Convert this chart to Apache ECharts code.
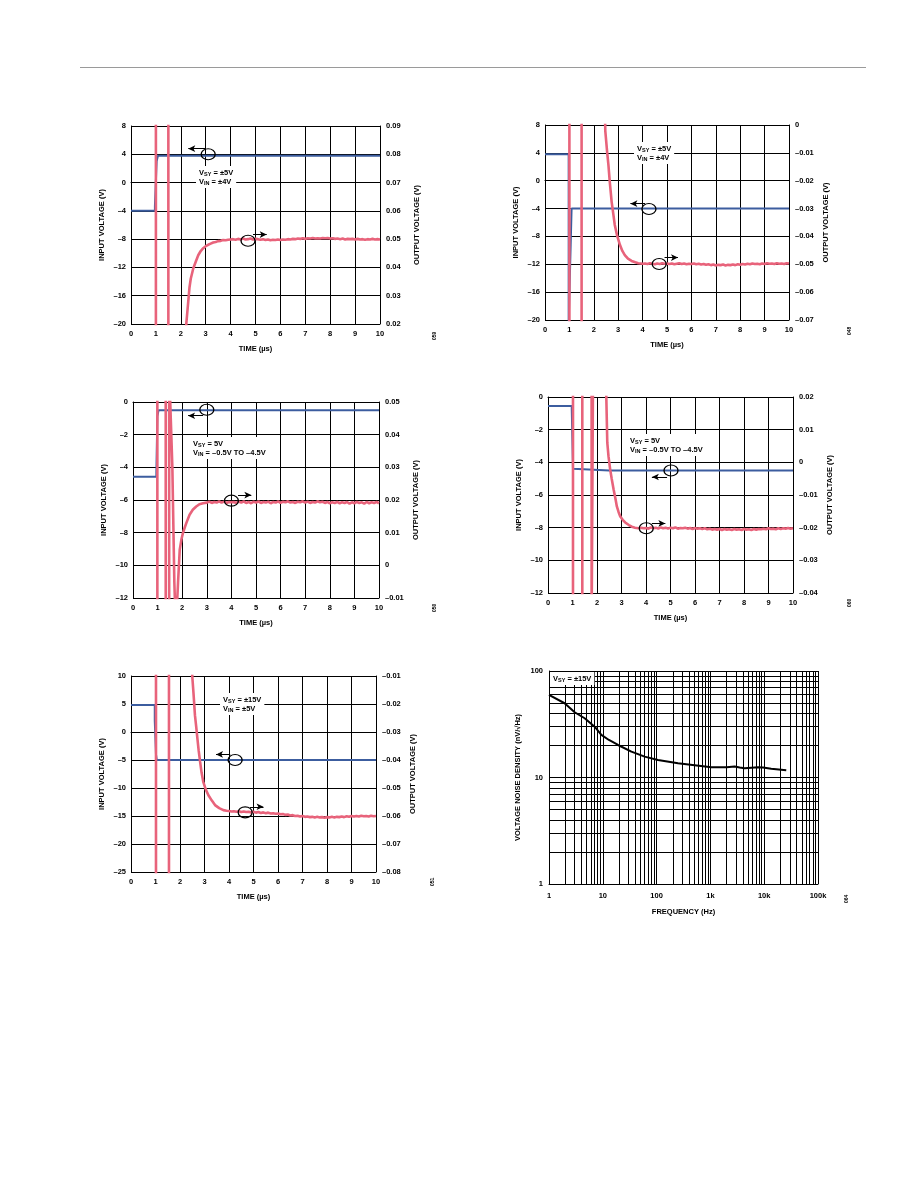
<!DOCTYPE html>
<html>
<head>
<meta charset="utf-8">
<script src="https://cdn.jsdelivr.net/npm/echarts@6/dist/echarts.min.js"></script>
<style>
  html, body { margin: 0; padding: 0; background: #fff; }
  #page { width: 918px; height: 1188px; }
</style>
</head>
<body>
<div id="page"></div>
<script>
// ---- data ----
// common sample times for the settled part of every output trace
const settleT = [4.0,4.1,4.2,4.3,4.4,4.5,4.6,4.7,4.8,4.9,5.0,5.1,5.2,5.3,5.4,5.5,5.6,5.7,5.8,5.9,
  6.0,6.1,6.2,6.3,6.4,6.5,6.6,6.7,6.8,6.9,7.0,7.1,7.2,7.3,7.4,7.5,7.6,7.7,7.8,7.9,
  8.0,8.1,8.2,8.3,8.4,8.5,8.6,8.7,8.8,8.9,9.0,9.1,9.2,9.3,9.4,9.5,9.6,9.7,9.8,9.9,10.0];

// panel 1: VSY = ±5V, VIN = ±4V (rising)
const c1Input = [[0,-4],[0.96,-4],[0.96,-3.4],[1.03,-3.4],[1.03,3.0],[1.08,3.0],[1.08,3.8],[10,3.8]];
const c1Output = [[1.0,0.01],[1.0,0.1],[1.5,0.1],[1.5,0.01],[2.2,0.01],[2.22,0.02],[2.3,0.028],[2.35,0.033],
  [2.4,0.036],[2.5,0.0396],[2.6,0.042],[2.7,0.0443],[2.8,0.0458],[2.9,0.0468],[3.0,0.0475],[3.1,0.048],
  [3.2,0.0484],[3.3,0.0488],[3.4,0.049],[3.5,0.0493],[3.6,0.0494],[3.7,0.0497],[3.8,0.0496],[3.9,0.0498]];
const c1Settle = [0.0499,
  0.0500,0.0498,0.0501,0.0499,0.0502,0.0499,0.0500,0.0502,0.0499,0.0501,
  0.0500,0.0498,0.0500,0.0497,0.0499,0.0496,0.0498,0.0497,0.0499,0.0497,
  0.0499,0.0498,0.0500,0.0499,0.0501,0.0500,0.0502,0.0501,0.0503,0.0501,
  0.0503,0.0502,0.0504,0.0502,0.0503,0.0502,0.0504,0.0503,0.0504,0.0502,
  0.0503,0.0501,0.0502,0.0500,0.0502,0.0499,0.0501,0.0500,0.0501,0.0499,
  0.0501,0.0499,0.0500,0.0498,0.0500,0.0499,0.0501,0.0499,0.0500,0.0499];

// panel 2: VSY = ±5V, VIN = ±4V (falling)
const c2Input = [[0,3.8],[0.97,3.8],[0.97,-20.5],[1.09,-4],[10,-4]];
const c2Output = [[1.0,0.01],[1.0,-0.08],[1.5,-0.08],[1.5,0.01],[2.45,0.01],[2.47,-0.002],[2.55,-0.01],
  [2.6,-0.0144],[2.65,-0.02],[2.73,-0.0275],[2.8,-0.032],[2.86,-0.0359],[2.95,-0.0395],[3.07,-0.043],
  [3.17,-0.0452],[3.27,-0.0467],[3.4,-0.048],[3.55,-0.0488],[3.7,-0.0493],[3.82,-0.0496],[3.9,-0.0497]];
const c2Settle = [-0.0498,
  -0.0497,-0.0499,-0.0496,-0.0498,-0.0500,-0.0497,-0.0499,-0.0496,-0.0498,-0.0497,
  -0.0499,-0.0497,-0.0500,-0.0498,-0.0496,-0.0499,-0.0497,-0.0500,-0.0498,-0.0499,
  -0.0497,-0.0500,-0.0498,-0.0501,-0.0499,-0.0502,-0.0500,-0.0503,-0.0501,-0.0504,
  -0.0502,-0.0503,-0.0501,-0.0504,-0.0502,-0.0503,-0.0501,-0.0503,-0.0500,-0.0502,
  -0.0499,-0.0501,-0.0498,-0.0500,-0.0497,-0.0499,-0.0498,-0.0500,-0.0497,-0.0499,
  -0.0496,-0.0498,-0.0497,-0.0499,-0.0496,-0.0498,-0.0497,-0.0499,-0.0496,-0.0497];

// panel 3: VSY = 5V, VIN = -0.5V to -4.5V (rising)
const c3Input = [[0,-4.58],[0.95,-4.58],[0.95,-4.3],[0.99,-4.3],[0.99,-0.87],[1.04,-0.87],[1.04,-0.5],[2.0,-0.5],[2.05,-0.44],[2.1,-0.5],
  [3.4,-0.5],[3.45,-0.44],[3.5,-0.5],[5.0,-0.5],[5.05,-0.44],[5.1,-0.5],[6.5,-0.5],[6.55,-0.45],[6.6,-0.5],
  [8.0,-0.5],[8.05,-0.44],[8.1,-0.5],[10,-0.5]];
const c3Output = [[0.99,-0.02],[0.99,0.06],[1.33,0.06],[1.33,-0.02],[1.47,-0.02],[1.47,0.06],[1.55,0.06],
  [1.6,0.03],[1.68,-0.005],[1.74,-0.02],[1.8,-0.02],[1.83,-0.0054],[1.9,0.0048],[1.97,0.008],[2.03,0.0099],
  [2.1,0.0115],[2.17,0.013],[2.3,0.0155],[2.43,0.017],[2.57,0.018],[2.7,0.0187],[2.85,0.019],[3.0,0.0192],
  [3.1,0.0195],[3.2,0.0191],[3.3,0.0194],[3.4,0.0192],[3.5,0.0196],[3.6,0.0192],[3.7,0.0195],[3.8,0.0191],[3.9,0.0194]];
const c3Settle = [0.0193,
  0.0194,0.0191,0.0195,0.0192,0.0196,0.0191,0.0194,0.0190,0.0195,0.0192,
  0.0196,0.0191,0.0194,0.0192,0.0195,0.0190,0.0194,0.0192,0.0196,0.0191,
  0.0195,0.0193,0.0196,0.0192,0.0194,0.0191,0.0195,0.0193,0.0196,0.0192,
  0.0195,0.0191,0.0194,0.0192,0.0196,0.0193,0.0195,0.0191,0.0194,0.0190,
  0.0193,0.0191,0.0194,0.0190,0.0193,0.0191,0.0194,0.0189,0.0193,0.0190,
  0.0194,0.0191,0.0193,0.0189,0.0194,0.0190,0.0193,0.0191,0.0194,0.0190];

// panel 4: VSY = 5V, VIN = -0.5V to -4.5V (falling)
const c4Input = [[0,-0.55],[0.97,-0.55],[0.97,-0.75],[1.02,-0.75],[1.02,-4.4],[1.06,-4.4],[1.06,-4.52],[2.5,-4.5],[2.55,-4.44],[2.6,-4.5],
  [5.5,-4.5],[5.55,-4.44],[5.6,-4.5],[7.3,-4.5],[7.35,-4.44],[7.4,-4.5],[9.0,-4.5],[9.05,-4.44],[9.1,-4.5],[10,-4.5]];
const c4Output = [[1.02,0.03],[1.02,-0.05],[1.4,-0.05],[1.4,0.03],[1.78,0.03],[1.78,-0.05],[1.84,-0.05],[1.84,0.03],
  [2.38,0.03],[2.38,0.02],[2.42,0.006],[2.47,0.0018],[2.54,-0.0023],[2.6,-0.005],[2.68,-0.0084],[2.75,-0.011],
  [2.81,-0.0135],[2.88,-0.0152],[2.95,-0.0166],[3.05,-0.0176],[3.15,-0.0184],[3.3,-0.0192],[3.42,-0.0197],
  [3.55,-0.02],[3.69,-0.0202],[3.8,-0.0200],[3.9,-0.0202]];
const c4Settle = [-0.0201,
  -0.0203,-0.0199,-0.0202,-0.0200,-0.0203,-0.0199,-0.0202,-0.0200,-0.0203,-0.0200,
  -0.0202,-0.0199,-0.0203,-0.0201,-0.0202,-0.0200,-0.0203,-0.0201,-0.0204,-0.0201,
  -0.0203,-0.0202,-0.0204,-0.0202,-0.0205,-0.0203,-0.0206,-0.0204,-0.0206,-0.0204,
  -0.0207,-0.0204,-0.0206,-0.0205,-0.0207,-0.0204,-0.0206,-0.0205,-0.0207,-0.0204,
  -0.0206,-0.0205,-0.0207,-0.0204,-0.0206,-0.0204,-0.0205,-0.0203,-0.0205,-0.0202,
  -0.0204,-0.0203,-0.0205,-0.0202,-0.0204,-0.0202,-0.0203,-0.0201,-0.0203,-0.0202];

// panel 5: VSY = ±15V, VIN = ±5V (falling)
const c5Input = [[0,4.8],[0.97,4.8],[0.97,2.0],[1.02,2.0],[1.02,-4.0],[1.05,-4.0],[1.05,-5],[2.0,-5],[2.05,-4.7],[2.1,-5],
  [3.6,-5],[3.65,-4.7],[3.7,-5],[6.0,-5],[6.05,-4.7],[6.1,-5],[7.5,-5],[7.55,-4.7],[7.6,-5],[10,-5]];
const c5Output = [[1.02,0.0],[1.02,-0.09],[1.55,-0.09],[1.55,0.0],[2.5,0.0],[2.5,-0.01],[2.55,-0.016],
  [2.61,-0.024],[2.66,-0.028],[2.71,-0.0323],[2.76,-0.0365],[2.82,-0.0406],[2.88,-0.0445],[2.95,-0.0478],
  [3.05,-0.0505],[3.16,-0.0526],[3.3,-0.0545],[3.43,-0.0561],[3.6,-0.0572],[3.77,-0.0579],[3.9,-0.0581]];
const c5Settle = [-0.0582,
  -0.0584,-0.0583,-0.0585,-0.0583,-0.0586,-0.0584,-0.0586,-0.0585,-0.0587,-0.0585,
  -0.0588,-0.0586,-0.0589,-0.0587,-0.0590,-0.0588,-0.0591,-0.0590,-0.0592,-0.0591,
  -0.0594,-0.0593,-0.0596,-0.0595,-0.0598,-0.0597,-0.0600,-0.0599,-0.0602,-0.0600,
  -0.0603,-0.0602,-0.0604,-0.0603,-0.0605,-0.0603,-0.0605,-0.0604,-0.0606,-0.0604,
  -0.0605,-0.0603,-0.0605,-0.0603,-0.0604,-0.0602,-0.0604,-0.0601,-0.0603,-0.0600,
  -0.0602,-0.0600,-0.0602,-0.0599,-0.0601,-0.0600,-0.0602,-0.0599,-0.0601,-0.0600];

// panel 6: voltage noise density
const noiseFreq = [1,1.95,3,4.6,7.06,9.4,13,19.2,34,60,106,250,510,1040,2000,2820,3500,4340,7670,9500,13500,25700];
const noiseDensity = [59.6,49.8,41,36,30,25.1,22.5,20.2,17.5,15.7,14.6,13.6,13.05,12.5,12.5,12.7,12.4,12.2,12.5,12.4,12.1,11.7];
const logMinor = [2,3,4,5,6,7,8,9];
const freqDecades = [1,10,100,1000,10000];
const densityDecades = [1,10];

// ---- styling ----
const FONT = '"Liberation Sans", Arial, Helvetica, sans-serif';
const PINK = '#e8637b';
const BLUE = '#3c5d9f';
const txt = { fontFamily: FONT, fontSize: 7.5, fontWeight: 'bold', color: '#000' };
const blackLine = { lineStyle: { color: '#000', width: 1 } };

const fmtInt = v => v < 0 ? '\u2013' + (-v) : String(v);
const fmtOut = v => Math.abs(v) < 1e-9 ? '0' : (v < 0 ? '\u2013' : '') + Math.abs(v).toFixed(2);
const zip = (t, v) => t.map((x, i) => [x, v[i]]);

const panels = [
  { box: { left: 131, top: 126, width: 249, height: 198 }, inMin: -20, inMax: 8, inStep: 4, outMin: 0.02, outMax: 0.09,
    input: c1Input, output: c1Output, settle: c1Settle,
    blueRing: [3.1, 4.0], blueArrow: [3.0, 2.3, 4.8], pinkRing: [4.7, 0.0494], pinkArrow: [4.9, 5.45, 0.0516] },
  { box: { left: 545, top: 125, width: 244, height: 195 }, inMin: -20, inMax: 8, inStep: 4, outMin: -0.07, outMax: 0,
    input: c2Input, output: c2Output, settle: c2Settle,
    blueRing: [4.26, -4.06], blueArrow: [4.1, 3.5, -3.3], pinkRing: [4.68, -0.0499], pinkArrow: [4.9, 5.45, -0.0476] },
  { box: { left: 133, top: 402, width: 246, height: 196 }, inMin: -12, inMax: 0, inStep: 2, outMin: -0.01, outMax: 0.05,
    input: c3Input, output: c3Output, settle: c3Settle,
    blueRing: [3.0, -0.47], blueArrow: [2.85, 2.24, -0.84], pinkRing: [4.0, 0.0198], pinkArrow: [4.27, 4.81, 0.0215] },
  { box: { left: 548, top: 397, width: 245, height: 196 }, inMin: -12, inMax: 0, inStep: 2, outMin: -0.04, outMax: 0.02,
    input: c4Input, output: c4Output, settle: c4Settle,
    blueRing: [5.02, -4.5], blueArrow: [4.86, 4.24, -4.9], pinkRing: [4.01, -0.0202], pinkArrow: [4.24, 4.79, -0.0187] },
  { box: { left: 131, top: 676, width: 245, height: 196 }, inMin: -25, inMax: 10, inStep: 5, outMin: -0.08, outMax: -0.01,
    input: c5Input, output: c5Output, settle: c5Settle,
    blueRing: [4.25, -5], blueArrow: [4.05, 3.47, -4.0], pinkRing: [4.66, -0.0587], pinkArrow: [4.86, 5.41, -0.0567] }
];

function ring(c) {
  return {
    symbol: 'circle', symbolSize: [14, 11], silent: true, animation: false,
    itemStyle: { color: 'rgba(0,0,0,0)', borderColor: '#000', borderWidth: 1.2 },
    label: { show: false },
    data: [{ coord: c }]
  };
}
function arrow(a) {
  return {
    symbol: ['none', 'arrow'], symbolSize: [5, 7], silent: true, animation: false,
    label: { show: false },
    lineStyle: { color: '#000', width: 1, type: 'solid' },
    data: [[{ coord: [a[0], a[2]] }, { coord: [a[1], a[2]] }]]
  };
}

const grid = [], xAxis = [], yAxis = [], series = [];

panels.forEach((p, i) => {
  grid.push(Object.assign({}, p.box));
  xAxis.push({
    gridIndex: i, type: 'value', min: 0, max: 10, interval: 1,
    name: 'TIME (\u00b5s)', nameLocation: 'middle', nameGap: 21, nameTextStyle: txt,
    axisLine: blackLine, axisTick: { show: false },
    axisLabel: Object.assign({ margin: 6 }, txt),
    splitLine: { show: true, lineStyle: { color: '#000', width: 1 } }
  });
  yAxis.push({
    gridIndex: i, type: 'value', position: 'left', min: p.inMin, max: p.inMax, interval: p.inStep,
    name: 'INPUT VOLTAGE (V)', nameLocation: 'middle', nameGap: 25, nameRotate: 90, nameTextStyle: txt,
    axisLine: Object.assign({ show: true }, blackLine), axisTick: { show: false },
    axisLabel: Object.assign({ margin: 5, formatter: fmtInt }, txt),
    splitLine: { show: true, lineStyle: { color: '#000', width: 1 } }
  });
  yAxis.push({
    gridIndex: i, type: 'value', position: 'right', min: p.outMin, max: p.outMax, interval: 0.01,
    name: 'OUTPUT VOLTAGE (V)', nameLocation: 'middle', nameGap: 33, nameRotate: 90, nameTextStyle: txt,
    axisLine: Object.assign({ show: true }, blackLine), axisTick: { show: false },
    axisLabel: Object.assign({ margin: 6, formatter: fmtOut }, txt),
    splitLine: { show: false }
  });
  series.push({
    type: 'line', xAxisIndex: i, yAxisIndex: 2 * i, data: p.input,
    showSymbol: false, symbol: 'none', animation: false, z: 3,
    lineStyle: { color: BLUE, width: 2 },
    markPoint: ring(p.blueRing), markLine: arrow(p.blueArrow)
  });
  series.push({
    type: 'line', xAxisIndex: i, yAxisIndex: 2 * i + 1, data: p.output.concat(zip(settleT, p.settle)),
    showSymbol: false, symbol: 'none', animation: false, z: 4,
    lineStyle: { color: PINK, width: 2.6 },
    markPoint: ring(p.pinkRing), markLine: arrow(p.pinkArrow)
  });
});

// noise density panel
grid.push({ left: 549, top: 671, width: 269, height: 213 });
xAxis.push({
  gridIndex: 5, type: 'log', logBase: 10, min: 1, max: 100000,
  name: 'FREQUENCY (Hz)', nameLocation: 'middle', nameGap: 24, nameTextStyle: txt,
  axisLine: blackLine, axisTick: { show: false },
  axisLabel: Object.assign({ margin: 8, formatter: v => v >= 1000 ? (v / 1000) + 'k' : String(v) }, txt),
  splitLine: { show: true, lineStyle: { color: '#000', width: 1 } }
});
yAxis.push({
  gridIndex: 5, type: 'log', logBase: 10, min: 1, max: 100,
  name: 'VOLTAGE NOISE DENSITY (nV/\u221aHz)', nameLocation: 'middle', nameGap: 27, nameRotate: 90, nameTextStyle: txt,
  axisLine: Object.assign({ show: true }, blackLine), axisTick: { show: false },
  axisLabel: Object.assign({ margin: 6 }, txt),
  splitLine: { show: true, lineStyle: { color: '#000', width: 1 } }
});
const minorLines = [];
freqDecades.forEach(d => logMinor.forEach(m => minorLines.push({ xAxis: d * m })));
densityDecades.forEach(d => logMinor.forEach(m => minorLines.push({ yAxis: d * m })));
series.push({
  type: 'line', xAxisIndex: 5, yAxisIndex: 10, data: zip(noiseFreq, noiseDensity),
  showSymbol: false, symbol: 'none', animation: false, z: 5,
  lineStyle: { color: '#000', width: 2 },
  markLine: {
    symbol: ['none', 'none'], silent: true, animation: false, label: { show: false },
    lineStyle: { color: '#000', width: 1, type: 'solid' },
    data: minorLines
  }
});

// condition labels
const rich = {
  n: { fontFamily: FONT, fontSize: 7.5, fontWeight: 'bold', fill: '#000', lineHeight: 9 },
  s: { fontFamily: FONT, fontSize: 5.5, fontWeight: 'bold', fill: '#000', lineHeight: 9, verticalAlign: 'bottom', padding: [3, 0, 0, 0] }
};
function note(left, top, lines) {
  return {
    type: 'text', left: left, top: top, z: 50,
    style: {
      text: lines.join('\n'), rich: rich,
      fontFamily: FONT, fontSize: 7.5, fontWeight: 'bold', fill: '#000', lineHeight: 9,
      backgroundColor: '#fff', padding: [2, 3]
    }
  };
}
function figNo(x, y, s) {
  return {
    type: 'text', x: x, y: y, rotation: Math.PI / 2, z: 50,
    style: { text: s, fontFamily: FONT, fontSize: 5, fontWeight: 'bold', fill: '#000' }
  };
}

const graphic = [
  { type: 'line', z: 50, shape: { x1: 80, y1: 67.5, x2: 866, y2: 67.5 }, style: { stroke: '#9a9a9a', lineWidth: 1 } },
  note(196, 166, ['V{s|SY} = \u00b15V', 'V{s|IN} = \u00b14V']),
  note(634, 142, ['V{s|SY} = \u00b15V', 'V{s|IN} = \u00b14V']),
  note(190, 437, ['V{s|SY} = 5V', 'V{s|IN} = \u20130.5V TO \u20134.5V']),
  note(627, 434, ['V{s|SY} = 5V', 'V{s|IN} = \u20130.5V TO \u20134.5V']),
  note(220, 693, ['V{s|SY} = \u00b115V', 'V{s|IN} = \u00b15V']),
  note(550, 672, ['V{s|SY} = \u00b115V']),
  figNo(432, 340, '059'),
  figNo(847, 335, '048'),
  figNo(432, 612, '050'),
  figNo(847, 607, '060'),
  figNo(430, 886, '051'),
  figNo(844, 903, '064')
];

const chart = echarts.init(document.getElementById('page'), null, { renderer: 'canvas' });
chart.setOption({
  animation: false,
  backgroundColor: '#fff',
  grid: grid,
  xAxis: xAxis,
  yAxis: yAxis,
  series: series,
  graphic: graphic
});
</script>
</body>
</html>
